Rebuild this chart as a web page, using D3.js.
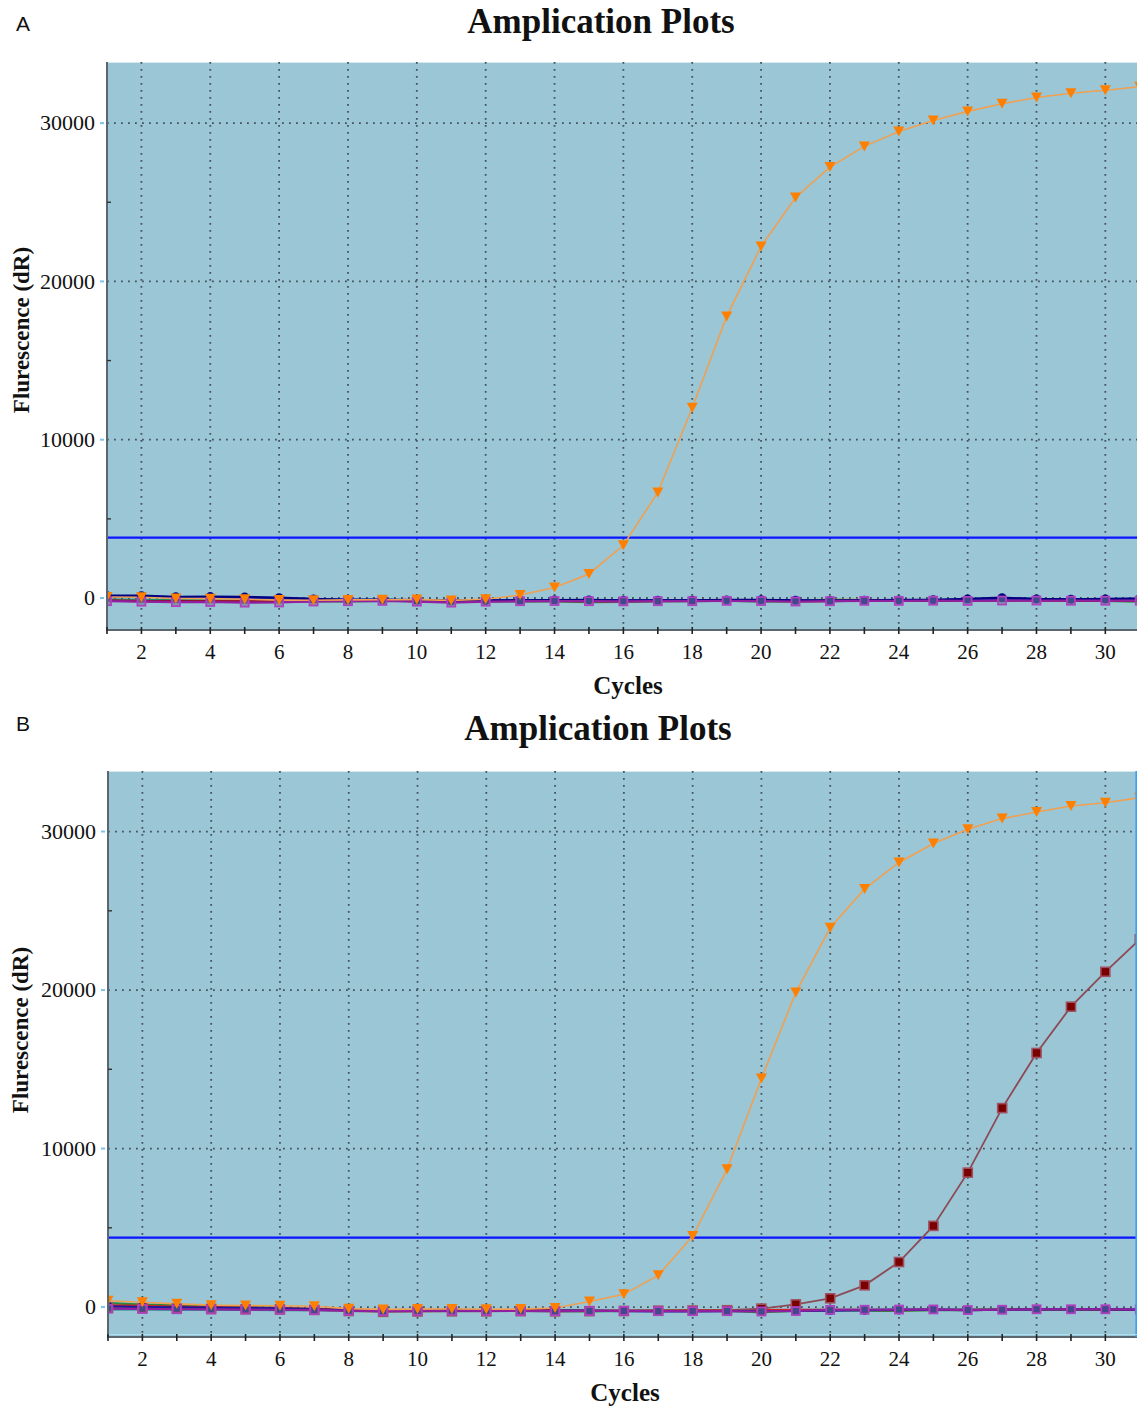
<!DOCTYPE html>
<html><head><meta charset="utf-8">
<script src="https://cdn.jsdelivr.net/npm/d3@7"></script>
<style>body{margin:0;background:#fff}svg{display:block}</style>
</head><body>
<script>
// ---------- DATA ----------
const cycles = d3.range(1, 32);
const xTickLabels = [2,4,6,8,10,12,14,16,18,20,22,24,26,28,30];
const yTickLabels = [0,10000,20000,30000];
const titleText = "Amplication Plots";
const xLabel = "Cycles";
const yLabel = "Flurescence (dR)";
const thresholdA = 3810;
const thresholdB = 4380;

// Panel A
const aOrange = [60,50,-30,-40,-80,-130,-140,-120,-110,-100,-150,-80,190,670,1520,3330,6670,12020,17790,22210,25300,27220,28530,29470,30170,30740,31220,31620,31890,32080,32300];
const aNavy   = [150,150,80,90,70,20,-60,-110,-100,-130,-170,-150,-140,-130,-120,-150,-140,-140,-120,-110,-140,-160,-140,-120,-110,-60,20,-60,-80,-60,-30];
const aBlue   = [80,90,40,30,20,-20,-70,-100,-110,-140,-170,-160,-150,-140,-140,-160,-150,-150,-140,-130,-150,-160,-150,-140,-130,-90,-20,-70,-90,-70,-50];
const aGreen  = [-150,-160,-160,-170,-190,-200,-200,-220,-180,-170,-200,-190,-210,-220,-260,-240,-200,-190,-170,-230,-190,-120,-150,-170,-150,-180,-130,-110,-160,-180,-240];
const aRed    = [-160,-200,-220,-190,-210,-190,-180,-160,-150,-200,-230,-190,-170,-180,-200,-190,-180,-170,-160,-180,-200,-180,-170,-160,-160,-170,-150,-150,-170,-170,-180];
const aPurple = [-200,-230,-260,-250,-290,-280,-220,-200,-180,-230,-290,-230,-200,-190,-200,-210,-200,-200,-180,-190,-220,-200,-180,-180,-170,-180,-160,-160,-170,-170,-170];
const aTeal   = [-100,-120,-150,-160,-170,-180,-190,-170,-160,-160,-190,-180,-180,-170,-180,-180,-170,-160,-150,-150,-170,-160,-150,-140,-140,-150,-120,-130,-140,-140,-150];
const aOlive  = [-120,-140,-170,-200,-150,-160,-180,-150,-140,-150,-150,-130,-160,-180,-170,-180,-160,-170,-160,-150,-160,-100,-120,-140,-150,-160,-140,-130,-150,-150,-160];
const aDarkRed= [-170,-190,-200,-210,-220,-200,-190,-180,-170,-190,-210,-200,-190,-180,-190,-200,-190,-180,-140,-170,-210,-190,-170,-170,-160,-170,-150,-140,-160,-160,-170];

// Panel B
const bOrange = [400,300,200,120,100,80,50,-100,-150,-130,-120,-140,-130,-60,350,800,2000,4480,8690,14420,19850,23930,26380,28050,29250,30150,30820,31230,31610,31820,32130];
const bDarkRed= [-50,-80,-100,-120,-140,-150,-180,-250,-300,-280,-270,-270,-260,-270,-260,-250,-230,-220,-200,-100,170,550,1370,2840,5120,8480,12550,16030,18950,21150,23200];
const bNavy   = [50,0,-20,-40,-60,-80,-150,-200,-250,-230,-220,-230,-240,-230,-220,-260,-280,-270,-260,-250,-250,-220,-200,-180,-160,-190,-170,-150,-150,-150,-170];
const bGreen  = [250,150,100,60,0,-50,-150,-200,-220,-200,-190,-200,-240,-260,-280,-250,-240,-230,-220,-330,-250,-200,-220,-240,-200,-190,-170,-150,-160,-170,-180];
const bRed    = [100,80,30,0,-30,-60,-120,-170,-200,-190,-180,-190,-200,-210,-220,-230,-220,-210,-200,-190,-180,-170,-180,-190,-170,-170,-160,-150,-150,-160,-170];
const bPurple = [-100,-120,-140,-150,-160,-170,-190,-230,-260,-240,-230,-240,-250,-260,-250,-240,-260,-260,-260,-280,-250,-180,-170,-160,-150,-190,-170,-140,-140,-140,-150];
const bTeal   = [-150,-150,-160,-170,-180,-190,-200,-210,-220,-220,-220,-230,-230,-230,-240,-240,-230,-220,-210,-200,-190,-180,-170,-160,-160,-160,-150,-150,-150,-150,-160];

// ---------- DRAW ----------
const W = 1137, H = 1408;
const svg = d3.select("body").append("svg").attr("width", W).attr("height", H)
  .style("font-family", "'Liberation Serif','Times New Roman',serif");

const BG = "#9ac6d6";
const GRID = "#44535e";
const AXIS = "#5a6670";

function panel(cfg) {
  const g = svg.append("g");
  const x = d3.scaleLinear().domain([1, 30.92]).range([cfg.left, cfg.right]);
  const y = d3.scaleLinear().domain(cfg.yDomain).range([cfg.bottom, cfg.top]);
  const clipId = "clip" + cfg.letter;
  svg.append("clipPath").attr("id", clipId).append("rect")
    .attr("x", cfg.left).attr("y", cfg.top).attr("width", cfg.right - cfg.left).attr("height", cfg.bottom - cfg.top);

  // letter + title
  g.append("text").attr("x", 16).attr("y", cfg.letterY).text(cfg.letter)
    .style("font-family", "'Liberation Sans',Arial,sans-serif").style("font-size", "21px").attr("fill", "#111");
  g.append("text").attr("x", cfg.titleX).attr("y", cfg.titleY).attr("text-anchor", "middle")
    .style("font-size", "35px").style("font-weight", "bold").attr("fill", "#111").text(titleText);

  // background
  g.append("rect").attr("x", cfg.left).attr("y", cfg.top).attr("width", cfg.right - cfg.left)
    .attr("height", cfg.bottom - cfg.top).attr("fill", BG);
  g.append("line").attr("x1", cfg.left).attr("x2", cfg.right).attr("y1", cfg.top + 0.5).attr("y2", cfg.top + 0.5)
    .attr("stroke", "#d8eaf0").attr("stroke-width", 1);

  // grid
  const grid = g.append("g").attr("clip-path", `url(#${clipId})`);
  grid.selectAll(".vg").data(xTickLabels).join("line")
    .attr("x1", d => x(d)).attr("x2", d => x(d)).attr("y1", cfg.top).attr("y2", cfg.bottom)
    .attr("stroke", GRID).attr("stroke-width", 1.8).attr("stroke-dasharray", "1.8,5.2");
  grid.selectAll(".hg").data(yTickLabels).join("line")
    .attr("y1", d => y(d)).attr("y2", d => y(d)).attr("x1", cfg.left).attr("x2", cfg.right)
    .attr("stroke", GRID).attr("stroke-width", 1.8).attr("stroke-dasharray", "1.8,5.2");

  // threshold
  grid.append("line").attr("x1", cfg.left).attr("x2", cfg.right)
    .attr("y1", y(cfg.threshold)).attr("y2", y(cfg.threshold))
    .attr("stroke", "#0a14ff").attr("stroke-width", 2.2);

  // series
  const line = d3.line().x((d, i) => x(cycles[i])).y(d => y(d));
  const plot = g.append("g").attr("clip-path", `url(#${clipId})`);
  cfg.series.forEach(s => {
    plot.append("path").datum(s.values).attr("d", line).attr("fill", "none")
      .attr("stroke", s.stroke).attr("stroke-width", s.width || 2.2);
  });
  cfg.series.forEach(s => {
    if (!s.marker) return;
    const mg = plot.append("g");
    const pts = s.values.map((v, i) => [x(cycles[i]), y(v)]);
    if (s.marker === "circle") {
      mg.selectAll("circle").data(pts).join("circle").attr("cx", d => d[0]).attr("cy", d => d[1])
        .attr("r", 4.5).attr("fill", s.fill);
    } else if (s.marker === "square") {
      mg.selectAll("rect").data(pts).join("rect").attr("x", d => d[0] - 4.5).attr("y", d => d[1] - 4.5)
        .attr("width", 9).attr("height", 9).attr("fill", s.fill).attr("stroke", s.mstroke || "none")
        .attr("stroke-width", s.mstroke ? 1.6 : 0);
    } else if (s.marker === "hsquare") {
      mg.selectAll("rect").data(pts).join("rect").attr("x", d => d[0] - 4).attr("y", d => d[1] - 4)
        .attr("width", 8).attr("height", 8).attr("fill", "#6a7a90").attr("fill-opacity", 0.6)
        .attr("stroke", s.fill).attr("stroke-width", 1.8);
    } else if (s.marker === "tri") {
      mg.selectAll("path").data(pts).join("path")
        .attr("d", d => `M${d[0]-5.5},${d[1]-5}L${d[0]+5.5},${d[1]-5}L${d[0]},${d[1]+5}Z`)
        .attr("fill", s.fill);
    }
  });

  // axes
  g.append("line").attr("x1", cfg.left).attr("x2", cfg.left).attr("y1", cfg.top).attr("y2", cfg.bottom + 1)
    .attr("stroke", AXIS).attr("stroke-width", 2);
  g.append("line").attr("x1", cfg.left).attr("x2", cfg.right).attr("y1", cfg.bottom).attr("y2", cfg.bottom)
    .attr("stroke", AXIS).attr("stroke-width", 2);
  if (cfg.rightEdge) {
    g.append("line").attr("x1", cfg.right - 0.8).attr("x2", cfg.right - 0.8).attr("y1", cfg.top).attr("y2", cfg.bottom)
      .attr("stroke", "#3aa0f0").attr("stroke-width", 1.6);
    g.append("line").attr("x1", cfg.left).attr("x2", cfg.right).attr("y1", cfg.bottom - 2.5).attr("y2", cfg.bottom - 2.5)
      .attr("stroke", "#a8e0f4").attr("stroke-width", 1.2);
  }

  // x ticks (every cycle)
  g.selectAll(".xt").data(cycles.filter(c => x(c) <= cfg.right)).join("line")
    .attr("x1", d => x(d)).attr("x2", d => x(d)).attr("y1", cfg.bottom - 3).attr("y2", cfg.bottom + 4)
    .attr("stroke", "#222").attr("stroke-width", 1.6);
  g.selectAll(".xl").data(xTickLabels).join("text")
    .attr("x", d => x(d)).attr("y", cfg.bottom + 29).attr("text-anchor", "middle")
    .style("font-size", "21px").attr("fill", "#111").text(d => d);

  // y ticks
  const minor = [5000, 15000, 25000];
  g.selectAll(".ym").data(minor).join("line")
    .attr("x1", cfg.left).attr("x2", cfg.left + 4).attr("y1", d => y(d)).attr("y2", d => y(d))
    .attr("stroke", "#333").attr("stroke-width", 1.4);
  g.selectAll(".yt").data(yTickLabels).join("line")
    .attr("x1", cfg.left - 7).attr("x2", cfg.left - 3).attr("y1", d => y(d)).attr("y2", d => y(d))
    .attr("stroke", "#7cc4ee").attr("stroke-width", 2);
  g.selectAll(".yl").data(yTickLabels).join("text")
    .attr("x", cfg.left - 12).attr("y", d => y(d)).attr("dy", "0.33em").attr("text-anchor", "end")
    .style("font-size", "22px").attr("fill", "#111").text(d => d);

  // axis titles
  g.append("text").attr("x", cfg.xLabelX).attr("y", cfg.bottom + 64).attr("text-anchor", "middle")
    .style("font-size", "25px").style("font-weight", "bold").attr("fill", "#111").text(xLabel);
  g.append("text").attr("transform", `translate(${cfg.yLabelX},${cfg.yLabelY}) rotate(-90)`)
    .attr("text-anchor", "middle").attr("dy", "0.35em")
    .style("font-size", "23px").style("font-weight", "bold").attr("fill", "#111").text(yLabel);
}

panel({
  letter: "A", letterY: 31, titleX: 601, titleY: 33,
  left: 107, right: 1137, top: 62, bottom: 630,
  yDomain: [-2020, 33860], threshold: thresholdA,
  xLabelX: 628, yLabelX: 21, yLabelY: 330,
  series: [
    {values: aOlive, stroke: "#b0a040"},
    {values: aTeal, stroke: "#1a8a8a"},
    {values: aGreen, stroke: "#2a8a3a"},
    {values: aRed, stroke: "#d02020"},
    {values: aDarkRed, stroke: "#8a1030"},
    {values: aBlue, stroke: "#2030c0"},
    {values: aNavy, stroke: "#000080", marker: "circle", fill: "#000080"},
    {values: aPurple, stroke: "#9020a0", marker: "hsquare", fill: "#b040c0"},
    {values: aOrange, stroke: "#f0a050", width: 1.6, marker: "tri", fill: "#ff7f00"}
  ]
});

panel({
  letter: "B", letterY: 731, titleX: 598, titleY: 740,
  left: 108, right: 1137, top: 771, bottom: 1337,
  yDomain: [-1890, 33820], threshold: thresholdB,
  xLabelX: 625, yLabelX: 20, yLabelY: 1030, rightEdge: true,
  series: [
    {values: bTeal, stroke: "#1a8a8a"},
    {values: bGreen, stroke: "#2a8a3a"},
    {values: bRed, stroke: "#d02020"},
    {values: bDarkRed, stroke: "#8c4a55", width: 1.8, marker: "square", fill: "#7a0000", mstroke: "#a05060"},
    {values: bNavy, stroke: "#1a1aa0", marker: "circle", fill: "#000080"},
    {values: bPurple, stroke: "#9020a0", marker: "hsquare", fill: "#b040c0"},
    {values: bOrange, stroke: "#f0a050", width: 1.6, marker: "tri", fill: "#ff7f00"}
  ]
});
</script>
</body></html>
